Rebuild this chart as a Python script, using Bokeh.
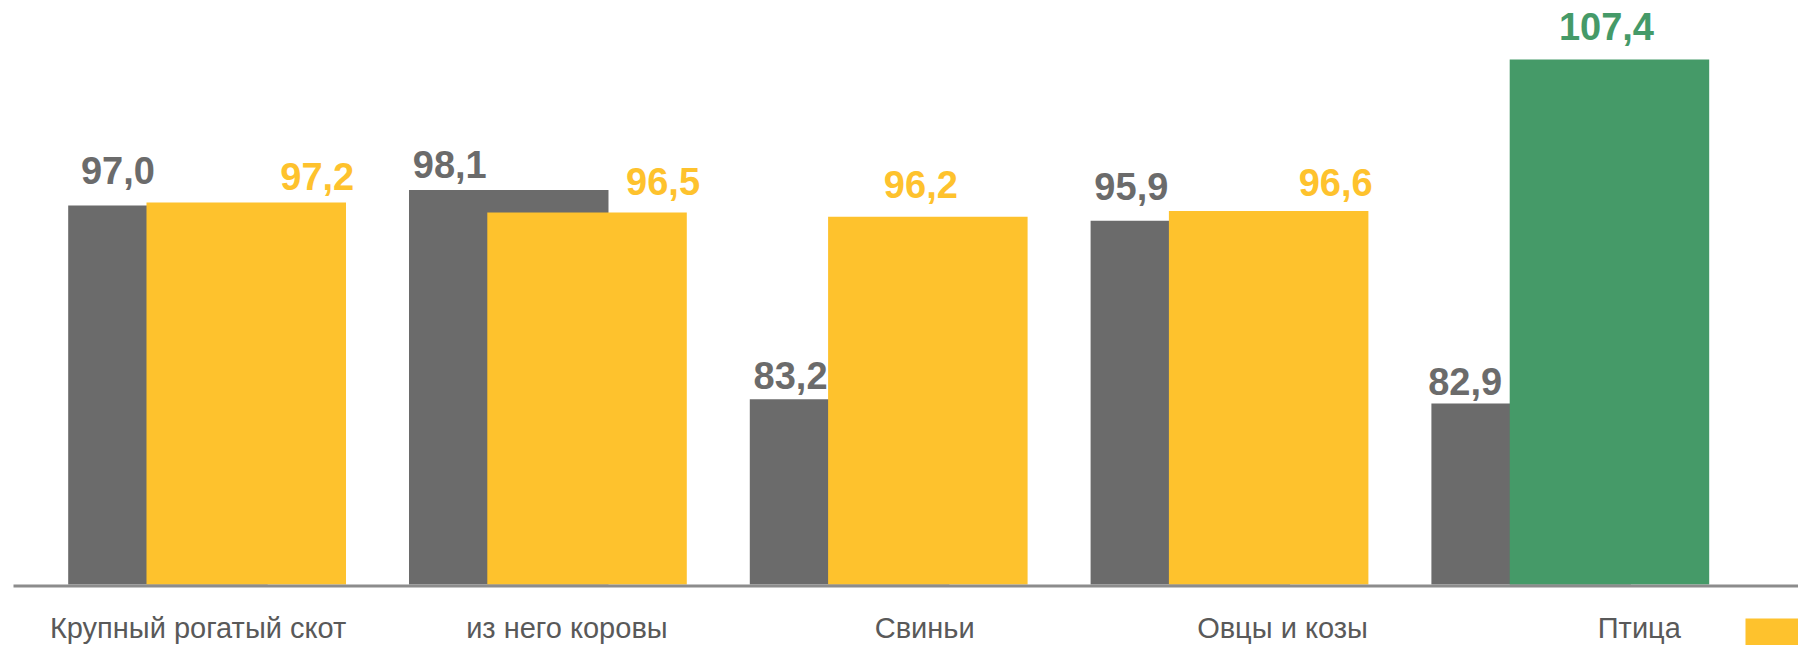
from bokeh.plotting import figure
from bokeh.models import ColumnDataSource, BoxAnnotation
from bokeh.core.properties import value
from bokeh.embed import file_html
from bokeh.resources import INLINE

# ---- data ----
categories = ["Крупный рогатый скот", "из него коровы", "Свиньи", "Овцы и козы", "Птица"]
prev_values = [97.0, 98.1, 83.2, 95.9, 82.9]
curr_values = [97.2, 96.5, 96.2, 96.6, 107.4]
prev_labels = ["97,0", "98,1", "83,2", "95,9", "82,9"]
curr_labels = ["97,2", "96,5", "96,2", "96,6", "107,4"]

# ---- styles / layout ----
GRAY = "#6b6b6b"
YELLOW = "#fec22d"
GREEN = "#459a68"
AXIS = "#8c8c8c"
CAT_TEXT = "#595959"
FONT = "Liberation Sans"

W, H = 1798, 645
BASE = 70.0
y_end = 111.595
y_start = 65.655
x_start = -0.6062
x_end = 4.6696
ppx = W / (x_end - x_start)   # px per x unit
ppy = H / (y_end - y_start)   # px per y unit

bar_w = 199.5 / ppx
off = 39.15 / ppx

VAL_SIZE = 38
CAT_SIZE = 29
val_corr = 0.35 * VAL_SIZE
cat_corr = 12

# label offsets in px (dx right, dy above bar top)
prev_dx = [-50, -59, -59, -59, -66]
prev_dy = [22, 12, 10, 21, 9]
curr_dx = [71, 76, -7, 67, -3]
curr_dy = [13, 18, 19, 15, 20]
cat_dx = [-9, 19, 36, 53, 69]
cat_baseline_px = 639

idx = list(range(len(categories)))
curr_colors = [GREEN if v > 100 else YELLOW for v in curr_values]

p = figure(width=W, height=H, x_range=(x_start, x_end), y_range=(y_start, y_end),
           output_backend="svg", toolbar_location=None, min_border=0)
p.axis.visible = False
p.grid.visible = False
p.outline_line_color = None
p.background_fill_color = "white"
p.border_fill_color = "white"

src_prev = ColumnDataSource(dict(
    x=[i - off for i in idx], top=prev_values,
    lx=[i - off + dx / ppx for i, dx in zip(idx, prev_dx)],
    ly=[v + (dy + val_corr) / ppy for v, dy in zip(prev_values, prev_dy)],
    lab=prev_labels))
src_curr = ColumnDataSource(dict(
    x=[i + off for i in idx], top=curr_values, color=curr_colors,
    lx=[i + off + dx / ppx for i, dx in zip(idx, curr_dx)],
    ly=[v + (dy + val_corr) / ppy for v, dy in zip(curr_values, curr_dy)],
    lab=curr_labels))

p.vbar(x="x", top="top", bottom=BASE, width=bar_w, source=src_prev,
       fill_color=GRAY, line_color=None)
p.vbar(x="x", top="top", bottom=BASE, width=bar_w, source=src_curr,
       fill_color="color", line_color=None)

# baseline axis line
ax_left = x_start + 13 / ppx
p.segment(x0=[ax_left], y0=[BASE - 1.5 / ppy], x1=[x_end], y1=[BASE - 1.5 / ppy],
          line_color=AXIS, line_width=3)

p.text(x="lx", y="ly", text="lab", source=src_prev, text_color=GRAY,
       text_font=value(FONT), text_font_style="bold", text_font_size=f"{VAL_SIZE}px",
       text_align="center", text_baseline="alphabetic")
p.text(x="lx", y="ly", text="lab", source=src_curr, text_color="color",
       text_font=value(FONT), text_font_style="bold", text_font_size=f"{VAL_SIZE}px",
       text_align="center", text_baseline="alphabetic")

src_cat = ColumnDataSource(dict(
    x=[i + dx / ppx for i, dx in zip(idx, cat_dx)],
    y=[y_end - (cat_baseline_px - cat_corr) / ppy] * len(categories),
    t=categories))
p.text(x="x", y="y", text="t", source=src_cat, text_color=CAT_TEXT,
       text_font=value(FONT), text_font_size=f"{CAT_SIZE}px",
       text_align="center", text_baseline="alphabetic")

# partial legend swatch at the bottom-right corner
p.add_layout(BoxAnnotation(left=1745, right=W, bottom=0, top=27,
                           left_units="screen", right_units="screen",
                           bottom_units="screen", top_units="screen",
                           fill_color=YELLOW, fill_alpha=1.0, line_color=None))

open("out.html", "w").write(file_html(p, INLINE))
